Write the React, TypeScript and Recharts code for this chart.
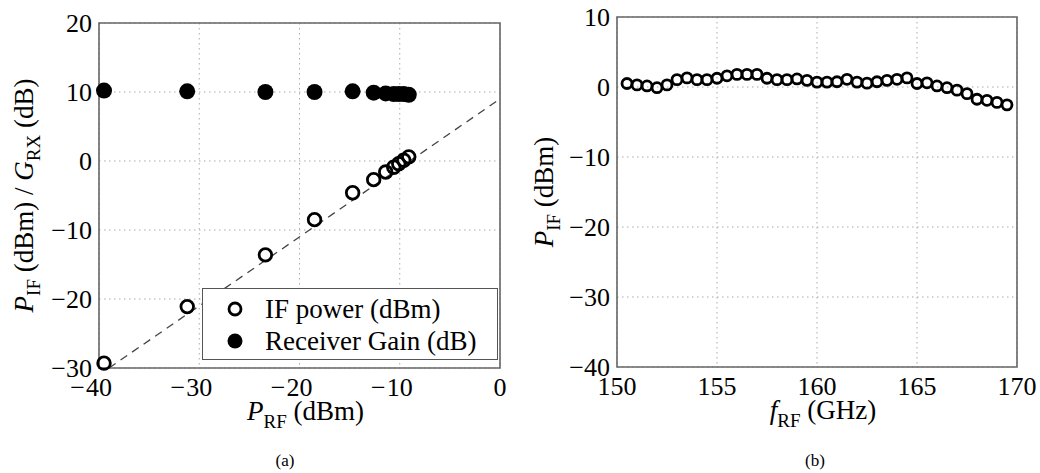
import {
  CartesianGrid,
  Legend,
  ReferenceArea,
  ReferenceLine,
  Scatter,
  ScatterChart,
  XAxis,
  YAxis,
} from 'recharts';

// (a) input power sweep
const rfPower = [-39.5, -31.2, -23.4, -18.5, -14.7, -12.6, -11.4, -10.6, -10.1, -9.6, -9.1];
const ifPower = [-29.3, -21.1, -13.6, -8.5, -4.6, -2.7, -1.6, -0.9, -0.4, 0.1, 0.6];
const rxGain = [10.2, 10.1, 10.0, 10.0, 10.1, 9.9, 9.8, 9.7, 9.7, 9.7, 9.6];
const fitLine = [
  { x: -39, y: -30 },
  { x: 0, y: 9 },
];
const rfTicks = [-40, -30, -20, -10, 0];
const leftYTicks = [-30, -20, -10, 0, 10, 20];

// (b) frequency sweep
const freqGHz = [
  150.5, 151, 151.5, 152, 152.5, 153, 153.5, 154, 154.5, 155, 155.5, 156, 156.5, 157, 157.5, 158,
  158.5, 159, 159.5, 160, 160.5, 161, 161.5, 162, 162.5, 163, 163.5, 164, 164.5, 165, 165.5, 166,
  166.5, 167, 167.5, 168, 168.5, 169, 169.5,
];
const ifVsFreq = [
  0.5, 0.3, 0.15, -0.1, 0.3, 1.05, 1.3, 1.05, 1.05, 1.25, 1.6, 1.8, 1.8, 1.8, 1.25, 1.05, 1.05,
  1.15, 0.95, 0.7, 0.7, 0.75, 1.1, 0.7, 0.55, 0.75, 0.95, 1.1, 1.3, 0.5, 0.6, 0.15, -0.1, -0.45,
  -0.95, -1.75, -1.9, -2.2, -2.55,
];
const freqTicks = [150, 155, 160, 165, 170];
const rightYTicks = [-40, -30, -20, -10, 0, 10];

const FONT = '"Liberation Serif", "Times New Roman", serif';
const FRAME = '#666';
const TICK_SIZE = 26;

const ifData = rfPower.map((x, i) => ({ x, y: ifPower[i] }));
const gainData = rfPower.map((x, i) => ({ x, y: rxGain[i] }));
const freqData = freqGHz.map((x, i) => ({ x, y: ifVsFreq[i] }));

const fmt = (v: number) => (v < 0 ? '\u2212' + Math.abs(v) : String(v));
const tickStyle = { fontFamily: FONT, fontSize: TICK_SIZE, fill: '#000' };

// matlab style: digits centred on the tick, minus sign hanging to the left
function XTick({ x, y, payload }: any) {
  const v = payload.value as number;
  const digits = String(Math.abs(v));
  const half = (digits.length * TICK_SIZE * 0.5) / 2;
  return (
    <g fontFamily={FONT} fontSize={TICK_SIZE} fill="#000">
      <text x={x} y={y} dy="0.71em" textAnchor="middle">
        {digits}
      </text>
      {v < 0 && (
        <text x={x - half - 1} y={y} dy="0.71em" textAnchor="end">
          {'\u2212'}
        </text>
      )}
    </g>
  );
}

const OpenDot = (r: number, w: number) => (props: any) => (
  <circle cx={props.cx} cy={props.cy} r={r} fill="none" stroke="#000" strokeWidth={w} />
);
const FilledDot = (props: any) => <circle cx={props.cx} cy={props.cy} r={8} fill="#000" />;

function XLabel({ viewBox, main, sub, unit }: any) {
  const cx = viewBox.x + viewBox.width / 2 + 6;
  return (
    <text x={cx} y={viewBox.y + 52} textAnchor="middle" fontFamily={FONT} fontSize={27} fill="#000">
      <tspan fontStyle="italic">{main}</tspan>
      <tspan fontSize={19} dy={8}>{sub}</tspan>
      <tspan dy={-8}> {unit}</tspan>
    </text>
  );
}

function YLabel({ viewBox, parts }: any) {
  const cx = 33;
  const cy = viewBox.y + viewBox.height / 2;
  return (
    <text
      x={cx}
      y={cy}
      transform={`rotate(-90, ${cx}, ${cy})`}
      textAnchor="middle"
      fontFamily={FONT}
      fontSize={27}
      fill="#000"
    >
      {parts.map((p: any, i: number) => (
        <tspan
          key={i}
          fontStyle={p.italic ? 'italic' : undefined}
          fontSize={p.sub ? 19 : 27}
          dy={p.dy}
        >
          {p.t}
        </tspan>
      ))}
    </text>
  );
}

function LegendBox() {
  return (
    <div
      style={{
        border: '1.5px solid #555',
        background: '#fff',
        width: 296,
        height: 72,
        boxSizing: 'border-box',
        fontFamily: FONT,
        fontSize: 27,
        lineHeight: '32px',
        color: '#000',
        paddingTop: 4,
        overflow: 'hidden',
        whiteSpace: 'nowrap',
      }}
    >
      {[
        { name: 'IF power (dBm)', filled: false },
        { name: 'Receiver Gain (dB)', filled: true },
      ].map((item) => (
        <div key={item.name} style={{ display: 'flex', alignItems: 'center', height: 32 }}>
          <svg width={62} height={20} style={{ flex: 'none' }}>
            {item.filled ? (
              <circle cx={32} cy={10} r={7.5} fill="#000" />
            ) : (
              <circle cx={32} cy={10} r={6} fill="none" stroke="#000" strokeWidth={2.8} />
            )}
          </svg>
          <span>{item.name}</span>
        </div>
      ))}
    </div>
  );
}

function CaptionText({ x, text }: { x: number; text: string }) {
  return (
    <div
      style={{
        position: 'absolute',
        left: x - 20,
        width: 40,
        top: 451,
        textAlign: 'center',
        fontFamily: FONT,
        fontSize: 17,
      }}
    >
      {text}
    </div>
  );
}

export default function App() {
  return (
    <div style={{ position: 'absolute', left: 0, top: 0, width: 1040, height: 473, background: '#fff' }}>
      <div style={{ position: 'absolute', left: 0, top: 0 }}>
        <ScatterChart width={520} height={473} margin={{ top: 23, right: 20, bottom: 75, left: 0 }}>
          <CartesianGrid stroke="#aaa" strokeDasharray="1.5 3.5" />
          <XAxis
            type="number"
            dataKey="x"
            domain={[-40, 0]}
            ticks={rfTicks}
            tick={<XTick />}
            axisLine={false}
            tickLine={false}
            tickMargin={4}
            height={30}
            label={<XLabel main="P" sub="RF" unit="(dBm)" />}
          />
          <YAxis
            type="number"
            dataKey="y"
            domain={[-30, 20]}
            ticks={leftYTicks}
            tickFormatter={fmt}
            tick={tickStyle}
            axisLine={false}
            tickLine={false}
            tickMargin={1}
            width={99}
            label={
              <YLabel
                parts={[
                  { t: 'P', italic: true },
                  { t: 'IF', sub: true, dy: 7 },
                  { t: ' (dBm) / ', dy: -7 },
                  { t: 'G', italic: true },
                  { t: 'RX', sub: true, dy: 7 },
                  { t: ' (dB)', dy: -7 },
                ]}
              />
            }
          />
          <ReferenceArea x1={-40} x2={0} y1={-30} y2={20} fill="none" stroke={FRAME} strokeWidth={1.6} />
          <ReferenceLine segment={fitLine} stroke="#444" strokeWidth={1.3} strokeDasharray="8 6" />
          <Scatter name="IF power (dBm)" data={ifData} shape={OpenDot(6.3, 2.8)} isAnimationActive={false} />
          <Scatter name="Receiver Gain (dB)" data={gainData} shape={FilledDot} isAnimationActive={false} />
          <Legend
            layout="vertical"
            align="center"
            verticalAlign="middle"
            content={<LegendBox />}
            wrapperStyle={{ left: 202, top: 288, width: 296, height: 72 }}
          />
        </ScatterChart>
      </div>
      <div style={{ position: 'absolute', left: 520, top: 0 }}>
        <ScatterChart width={520} height={473} margin={{ top: 17, right: 23, bottom: 76, left: 0 }}>
          <CartesianGrid stroke="#aaa" strokeDasharray="1.5 3.5" />
          <XAxis
            type="number"
            dataKey="x"
            domain={[150, 170]}
            ticks={freqTicks}
            tick={<XTick />}
            axisLine={false}
            tickLine={false}
            tickMargin={4}
            height={30}
            label={<XLabel main="f" sub="RF" unit="(GHz)" />}
          />
          <YAxis
            type="number"
            dataKey="y"
            domain={[-40, 10]}
            ticks={rightYTicks}
            tickFormatter={fmt}
            tick={tickStyle}
            axisLine={false}
            tickLine={false}
            tickMargin={1}
            width={97}
            label={
              <YLabel
                parts={[
                  { t: 'P', italic: true },
                  { t: 'IF', sub: true, dy: 7 },
                  { t: ' (dBm)', dy: -7 },
                ]}
              />
            }
          />
          <ReferenceArea x1={150} x2={170} y1={-40} y2={10} fill="none" stroke={FRAME} strokeWidth={1.6} />
          <Scatter name="IF power" data={freqData} shape={OpenDot(5, 2.8)} isAnimationActive={false} />
        </ScatterChart>
      </div>
      <CaptionText x={285} text="(a)" />
      <CaptionText x={815} text="(b)" />
    </div>
  );
}
